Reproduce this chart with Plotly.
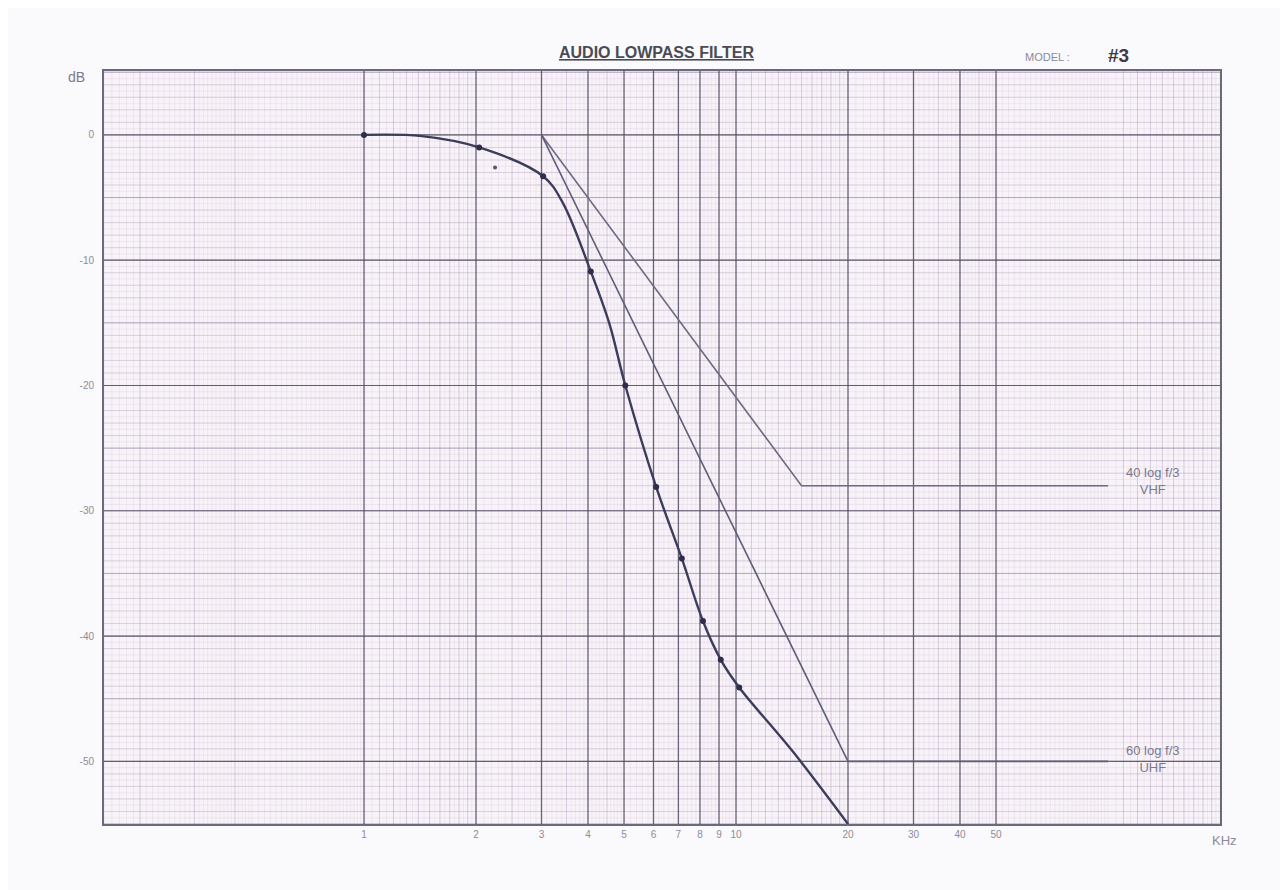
import numpy as np
import plotly.graph_objects as go

# ---------------- data ----------------
# measured response (frequency in kHz, attenuation in dB)
meas_f = [1.0, 1.43, 2.04, 3.03, 3.42, 4.07, 4.57, 5.04, 6.1, 7.15, 8.15, 9.1, 10.2, 14.2, 20.0]
meas_db = [0.0, -0.1, -1.0, -3.3, -5.4, -10.9, -15.1, -20.0, -28.1, -33.8, -38.8, -41.9, -44.1, -49.2, -55.0]
dot_f = [1.0, 2.04, 3.03, 4.07, 5.04, 6.1, 7.15, 8.15, 9.1, 10.2]
dot_db = [0.0, -1.0, -3.3, -10.9, -20.0, -28.1, -33.8, -38.8, -41.9, -44.1]
stray_f = [2.25]
stray_db = [-2.6]

# limit lines
vhf_f = [3.0, 15.0, 100.0]
vhf_db = [0.0, -28.0, -28.0]
uhf_f = [3.0, 20.0, 100.0]
uhf_db = [0.0, -50.0, -50.0]

x_tick_vals = [1, 2, 3, 4, 5, 6, 7, 8, 9, 10, 20, 30, 40, 50]
x_tick_text = ["1", "2", "3", "4", "5", "6", "7", "8", "9", "10", "20", "30", "40", "50"]
y_tick_vals = [0, -10, -20, -30, -40, -50]
y_tick_text = ["0", "-10", "-20", "-30", "-40", "-50"]

X_MIN, X_MAX = 0.2, 200.0
Y_MIN, Y_MAX = -55.0, 5.1

# ---------------- grid (graph paper) ----------------
def vlines(xs):
    gx, gy = [], []
    for v in xs:
        gx += [v, v, None]
        gy += [Y_MIN, Y_MAX, None]
    return gx, gy

def hlines(ys):
    gx, gy = [], []
    for v in ys:
        gx += [X_MIN, X_MAX, None]
        gy += [v, v, None]
    return gx, gy

fine_x, med_x = [], []
for dec in [0.1, 1, 10, 100]:
    for m in np.arange(1.0, 2.0, 0.05):
        fine_x.append(m * dec)
    for m in np.arange(2.0, 5.0, 0.1):
        fine_x.append(m * dec)
    for m in np.arange(5.0, 10.0, 0.2):
        fine_x.append(m * dec)
    for m in np.arange(1.1, 2.0, 0.1):
        med_x.append(m * dec)
    for m in [2.5, 3.5, 4.5]:
        med_x.append(m * dec)
fine_x = [v for v in fine_x if X_MIN <= v <= X_MAX]
med_x = [v for v in med_x if X_MIN <= v <= X_MAX]

fine_y = [v for v in np.arange(-55.0, 5.01, 0.5)]
med_y = [v for v in np.arange(-55.0, 5.01, 1.0)]
mid_y = [v for v in np.arange(-55.0, 5.01, 5.0)]

fig = go.Figure()

def add_grid(gx, gy, color, width):
    fig.add_trace(go.Scatter(x=gx, y=gy, mode="lines", hoverinfo="skip",
                             line=dict(color=color, width=width), showlegend=False))

gx, gy = vlines(fine_x); add_grid(gx, gy, "rgba(205,180,210,0.35)", 0.6)
gx, gy = hlines(fine_y); add_grid(gx, gy, "rgba(205,180,210,0.35)", 0.6)
gx, gy = vlines(med_x); add_grid(gx, gy, "rgba(165,150,180,0.45)", 0.7)
gx, gy = hlines(med_y); add_grid(gx, gy, "rgba(165,150,180,0.42)", 0.7)
gx, gy = hlines(mid_y); add_grid(gx, gy, "rgba(135,120,150,0.5)", 0.9)
gx, gy = vlines(x_tick_vals); add_grid(gx, gy, "rgba(80,75,95,0.85)", 1.3)
gx, gy = hlines(y_tick_vals); add_grid(gx, gy, "rgba(80,75,95,0.8)", 1.2)

# ---------------- curves ----------------
fig.add_trace(go.Scatter(x=vhf_f, y=vhf_db, mode="lines", showlegend=False,
                         line=dict(color="#6b6b82", width=1.6)))
fig.add_trace(go.Scatter(x=uhf_f, y=uhf_db, mode="lines", showlegend=False,
                         line=dict(color="#5e5e78", width=1.6)))
fig.add_trace(go.Scatter(x=meas_f, y=meas_db, mode="lines", showlegend=False,
                         line=dict(color="#3c3c5c", width=2.4, shape="spline", smoothing=1.0)))
fig.add_trace(go.Scatter(x=dot_f, y=dot_db, mode="markers", showlegend=False,
                         marker=dict(color="#2e2e4a", size=6)))
fig.add_trace(go.Scatter(x=stray_f, y=stray_db, mode="markers", showlegend=False,
                         marker=dict(color="#55556e", size=4)))

fig.update_layout(
    width=1288, height=890,
    margin=dict(l=96, r=76, t=63, b=74),
    paper_bgcolor="#faf9fc",
    plot_bgcolor="#f8f3f8",
    font=dict(family="Liberation Sans, Arial, sans-serif", color="#8a8a98"),
    xaxis=dict(type="log", range=[np.log10(X_MIN), np.log10(X_MAX)],
               tickmode="array", tickvals=x_tick_vals, ticktext=x_tick_text,
               showgrid=False, zeroline=False, ticks="", tickfont=dict(size=10, color="#8c8c9a"),
               showline=True, linecolor="#6a6a7a", linewidth=2, mirror=True),
    yaxis=dict(range=[Y_MIN, Y_MAX], tickmode="array", tickvals=y_tick_vals, ticktext=y_tick_text,
               showgrid=False, zeroline=False, ticks="", tickfont=dict(size=10, color="#8c8c9a"),
               ticklabelstandoff=6,
               showline=True, linecolor="#6a6a7a", linewidth=2, mirror=True),
    annotations=[
        dict(text="<b><u>AUDIO LOWPASS FILTER</u></b>", xref="paper", yref="paper",
             x=0.495, y=1.0, yshift=8, xanchor="center", yanchor="bottom", showarrow=False,
             font=dict(size=16, color="#4a4a55")),
        dict(text="MODEL :", xref="paper", yref="paper", x=0.845, y=1.0, yshift=6,
             xanchor="center", yanchor="bottom", showarrow=False,
             font=dict(size=11, color="#8a8a98")),
        dict(text="<b>#3</b>", xref="paper", yref="paper", x=0.909, y=1.0, yshift=3,
             xanchor="center", yanchor="bottom", showarrow=False,
             font=dict(size=19, color="#3a3a48")),
        dict(text="dB", xref="paper", yref="paper", x=0.0, y=1.0, xshift=-28, yshift=-6,
             xanchor="center", yanchor="middle", showarrow=False,
             font=dict(size=14, color="#7a7a8e")),
        dict(text="KHz", xref="paper", yref="paper", x=1.0, y=0.0, xshift=4, yshift=-16,
             xanchor="center", yanchor="middle", showarrow=False,
             font=dict(size=13, color="#8a8a98")),
        dict(text="40 log f/3<br>VHF", x=np.log10(132), y=-27.6, xref="x", yref="y",
             xanchor="center", yanchor="middle", showarrow=False,
             font=dict(size=13, color="#7a7a8c")),
        dict(text="60 log f/3<br>UHF", x=np.log10(132), y=-49.8, xref="x", yref="y",
             xanchor="center", yanchor="middle", showarrow=False,
             font=dict(size=13, color="#7a7a8c")),
    ],
)

fig.write_html("out.html")
